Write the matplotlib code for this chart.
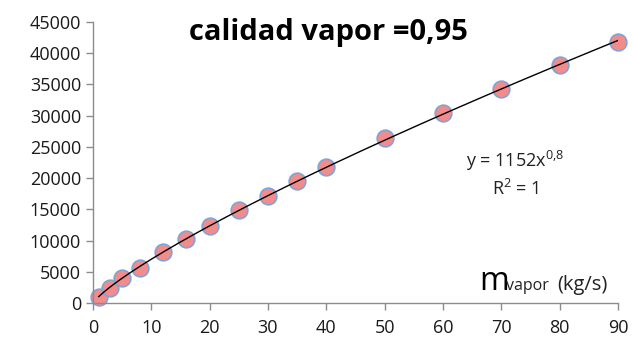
import numpy as np
import matplotlib
matplotlib.use("Agg")
import matplotlib.pyplot as plt

plt.rcParams['font.family'] = ['Open Sans', 'DejaVu Sans']
plt.rcParams['mathtext.fontset'] = 'custom'
plt.rcParams['mathtext.rm'] = 'Open Sans'
plt.rcParams['mathtext.it'] = 'Open Sans'

# Data
m_vapor = [1, 3, 5, 8, 12, 16, 20, 25, 30, 35, 40, 50, 60, 70, 80, 90]
caudal = [1000, 2400, 4000, 5700, 8150, 10250, 12400, 14900, 17200,
          19500, 21800, 26350, 30350, 34300, 38150, 41780]
title_txt = 'calidad vapor =0,95'
eq_txt = r'y = 1152x$^{\mathrm{0{,}8}}$'
r2_txt = r'R$^{\mathrm{2}}$ = 1'

fig = plt.figure(figsize=(6.32, 3.44), dpi=100)
ax = fig.add_axes([0.147, 0.118, 0.831, 0.819])

# power trendline y = a*x^b, least squares on the raw values
x = np.array(m_vapor, float)
y = np.array(caudal, float)
best = None
for b in np.linspace(0.6, 1.0, 401):
    xb = x ** b
    a = (xb @ y) / (xb @ xb)
    err = np.sum((y - a * xb) ** 2)
    if best is None or err < best[0]:
        best = (err, a, b)
_, a, b = best
xt = np.linspace(x.min(), x.max(), 200)
ax.plot(xt, a * xt ** b, color='black', lw=1.0, zorder=3)

ax.plot(m_vapor, caudal, 'o', ms=12, mfc='#F28B8B', mec='#7FA4D6',
        mew=1.2, zorder=2, clip_on=False)

ax.set_xlim(0, 90)
ax.set_ylim(0, 45000)
ax.set_xticks(range(0, 91, 10))
ax.set_yticks(range(0, 45001, 5000))
for s in ['top', 'right']:
    ax.spines[s].set_visible(False)
for s in ['left', 'bottom']:
    ax.spines[s].set_color('#8C8C8C')
    ax.spines[s].set_linewidth(1.0)
ax.tick_params(colors='#8C8C8C', labelcolor='#1A1A1A', labelsize=13,
               length=5, width=1.0)
ax.tick_params(axis='x', pad=6)

fig.text(0.52, 0.905, title_txt, fontsize=21, fontweight='bold',
         ha='center', va='center', color='black')
ax.text(0.804, 0.507, eq_txt, fontsize=13, transform=ax.transAxes,
        ha='center', va='center', color='#222222')
ax.text(0.804, 0.408, r2_txt, fontsize=13, transform=ax.transAxes,
        ha='center', va='center', color='#222222')

# axis title: big m, small "vapor", then units
fig.text(0.759, 0.157, 'm', fontsize=23, ha='left', va='baseline',
         color='black')
fig.text(0.801, 0.157, 'vapor', fontsize=11.5, ha='left', va='baseline',
         color='#222222')
fig.text(0.881, 0.157, '(kg/s)', fontsize=14.5, ha='left', va='baseline',
         color='#222222')

fig.savefig('out.png', dpi=100)
